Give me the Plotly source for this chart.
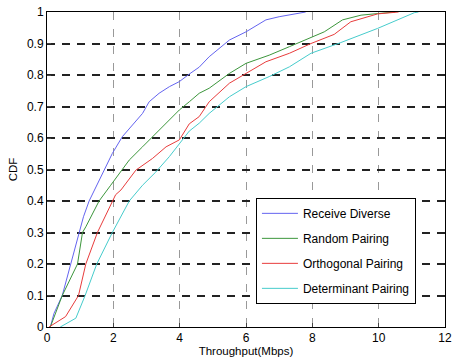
import plotly.graph_objects as go

# Data (Throughput in Mbps vs CDF)
rd_x = [0.1, 0.21, 0.46, 0.72, 0.97, 1.1, 1.27, 1.57, 1.97, 2.27, 2.58, 2.88, 3.08, 3.38, 3.69, 3.99,
        4.29, 4.59, 4.89, 5.5, 6.0, 6.6, 7.0, 7.3, 7.6, 7.8]
rd_y = [0, 0.043, 0.1, 0.2, 0.3, 0.35, 0.4, 0.467, 0.551, 0.604, 0.641, 0.678, 0.715, 0.742, 0.763, 0.779,
        0.803, 0.825, 0.858, 0.911, 0.937, 0.975, 0.985, 0.99, 0.997, 1.0]

rp_x = [0.1, 0.46, 0.92, 1.07, 1.17, 1.57, 1.92, 2.48, 2.88, 3.18, 3.59, 3.99, 4.29, 4.59, 4.89, 5.5,
        6.0, 6.7, 7.31, 7.96, 8.36, 8.91, 9.47, 9.97, 10.5]
rp_y = [0, 0.1, 0.2, 0.3, 0.318, 0.40, 0.45, 0.53, 0.572, 0.604, 0.647, 0.689, 0.715, 0.742, 0.758, 0.805,
        0.837, 0.863, 0.89, 0.918, 0.937, 0.975, 0.99, 0.995, 1.0]

op_x = [0.06, 0.56, 0.95, 1.17, 1.52, 1.97, 2.07, 2.23, 2.68, 3.18, 3.59, 3.99, 4.29, 4.59, 4.89, 5.5,
        6.0, 6.6, 7.31, 7.96, 8.66, 9.16, 9.97, 10.6]
op_y = [0, 0.033, 0.1, 0.2, 0.3, 0.4, 0.42, 0.435, 0.498, 0.535, 0.572, 0.594, 0.645, 0.668, 0.715, 0.774,
        0.805, 0.842, 0.869, 0.9, 0.929, 0.969, 0.994, 1.0]

dp_x = [0.4, 0.87, 1.15, 1.5, 1.97, 2.48, 2.88, 3.28, 3.69, 3.99, 4.29, 4.59, 4.89, 5.5, 6.0, 6.7,
        7.31, 7.96, 8.86, 9.97, 11.08, 11.2]
dp_y = [0, 0.028, 0.1, 0.2, 0.3, 0.4, 0.45, 0.492, 0.541, 0.583, 0.622, 0.647, 0.678, 0.731, 0.763, 0.795,
        0.826, 0.869, 0.903, 0.948, 0.998, 1.0]

names = ["Receive Diverse", "Random Pairing", "Orthogonal Pairing", "Determinant Pairing"]
xs = [rd_x, rp_x, op_x, dp_x]
ys = [rd_y, rp_y, op_y, dp_y]
colors = ["#6464f0", "#3c963c", "#e83c3c", "#46cccc"]

x_ticks = [0, 2, 4, 6, 8, 10, 12]
y_ticks = [0, 0.1, 0.2, 0.3, 0.4, 0.5, 0.6, 0.7, 0.8, 0.9, 1]
y_tick_text = ["0", "0.1", "0.2", "0.3", "0.4", "0.5", "0.6", "0.7", "0.8", "0.9", "1"]

fig = go.Figure()
for i, (n, x, y, c) in enumerate(zip(names, xs, ys, colors)):
    fig.add_trace(go.Scatter(x=x, y=y, mode="lines", name=n, legendgroup=n,
                             line=dict(color=c, width=1)))

font = dict(family="Liberation Sans, Arial, Helvetica, sans-serif", size=12, color="#000")

fig.update_layout(
    width=457, height=362,
    margin=dict(l=47, r=12, t=12, b=35),
    paper_bgcolor="white", plot_bgcolor="white",
    font=font,
    showlegend=True,
    legend=dict(x=0.525, y=0.41, xanchor="left", yanchor="top",
                bgcolor="white", bordercolor="black", borderwidth=1,
                font=dict(family=font["family"], size=12, color="#000"),
                itemwidth=36,
                tracegroupgap=6, traceorder="grouped"),
    xaxis=dict(range=[0, 12], tickvals=x_ticks, ticks="inside", ticklen=4,
               showline=True, linecolor="black", linewidth=1, mirror=True,
               showgrid=True, gridcolor="#999999", gridwidth=1, griddash="8px,9px",
               zeroline=False, automargin=False,
               tickfont=dict(size=12),
               title=dict(text="Throughput(Mbps)", standoff=2, font=dict(size=11.5))),
    yaxis=dict(range=[0, 1], tickvals=y_ticks, ticktext=y_tick_text, ticks="inside", ticklen=4,
               showline=True, linecolor="black", linewidth=1, mirror=True,
               showgrid=True, gridcolor="#222222", gridwidth=1.5, griddash="8px,7px",
               zeroline=False, automargin=False,
               tickfont=dict(size=12),
               title=dict(text="CDF", standoff=6, font=dict(size=11.5))),
)

fig.write_html("out.html", config={"displayModeBar": False},
               post_script="document.body.style.margin='0';document.body.style.overflow='hidden';")
